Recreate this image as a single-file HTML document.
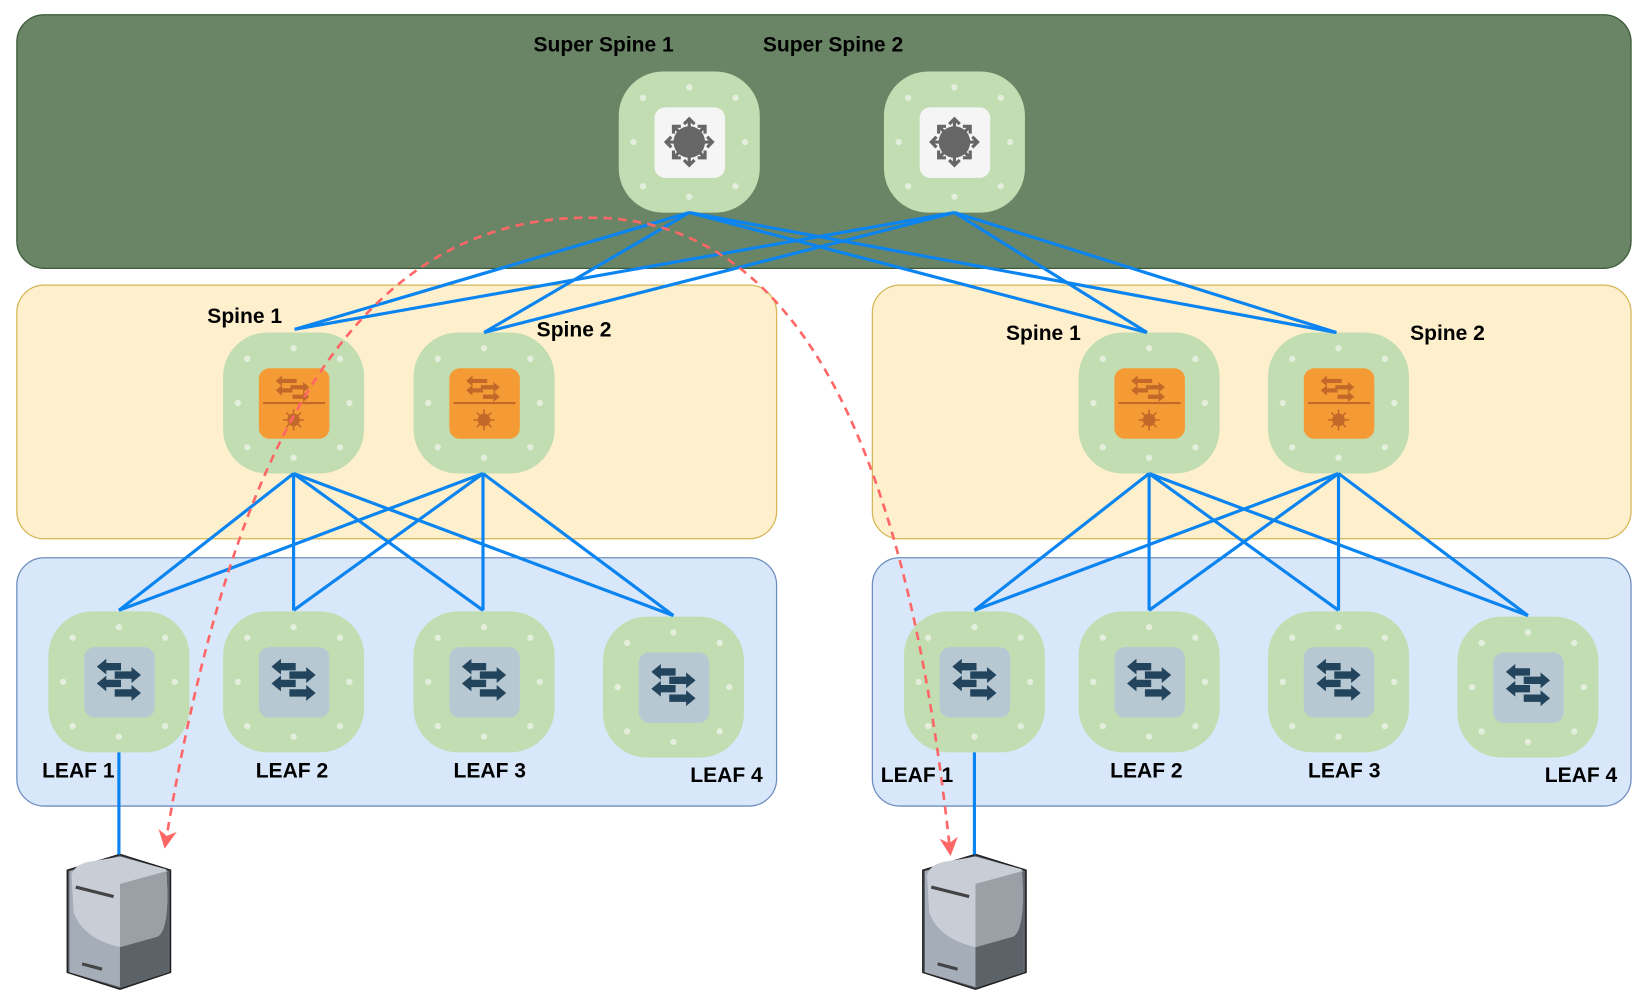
<!DOCTYPE html>
<html><head><meta charset="utf-8"><style>
html,body{margin:0;padding:0;background:#fff;}
svg{display:block;}
text{font-family:"Liberation Sans",sans-serif;font-weight:bold;font-size:20px;fill:#000;}
</style></head><body>
<svg width="1650" height="1006" viewBox="0 0 1568 956" preserveAspectRatio="none" xmlns="http://www.w3.org/2000/svg">
<defs>
<g id="dots" fill="#e3efdc">
<circle cx="67" cy="15" r="3"/><circle cx="23" cy="25" r="3"/><circle cx="111" cy="25" r="3"/>
<circle cx="14" cy="67" r="3"/><circle cx="120" cy="67" r="3"/>
<circle cx="23" cy="109" r="3"/><circle cx="111" cy="109" r="3"/><circle cx="67" cy="119" r="3"/>
</g>
<g id="ss">
<rect width="134" height="134" rx="42" fill="#c2ddb2"/><use href="#dots"/>
<rect x="34" y="34" width="67" height="67" rx="10" fill="#f5f5f5"/>
<circle cx="67" cy="67" r="15" fill="#666"/>
<g stroke="#666" stroke-width="3" fill="none">
<path d="M67,45V89M45,67H89M52,52L82,82M82,52L52,82"/>
<path d="M62,50L67,45L72,50M62,84L67,89L72,84M50,62L45,67L50,72M84,62L89,67L84,72"/>
<path d="M52,59V52H59M82,59V52H75M52,75V82H59M82,75V82H75"/>
</g></g>
<g id="sp">
<rect width="134" height="134" rx="42" fill="#c2ddb2"/><use href="#dots"/>
<rect x="34" y="34" width="67" height="67" rx="10" fill="#f59b35"/>
<line x1="38" y1="67" x2="97" y2="67" stroke="#c2692a" stroke-width="2"/>
<g fill="#c2692a"><path d="M56,44h14v4H56v3l-6,-5 6,-5z"/><path d="M64,50h12v-3l6,5-6,5v-3H64z"/><path d="M56,53h10v4H56v3l-6,-5 6,-5z"/><path d="M66,59h10v-3l6,5-6,5v-3H66z"/>
<circle cx="67" cy="83" r="6"/></g>
<g stroke="#c2692a" stroke-width="1.5"><path d="M67,73V93M57,83H77M60,76L74,90M74,76L60,90"/></g>
</g>
<g id="lf">
<rect width="134" height="134" rx="42" fill="#c2ddb2"/><use href="#dots"/>
<rect x="34" y="34" width="67" height="67" rx="10" fill="#b8c8d3"/>
<g fill="#23445d"><path d="M55,49h14v7H55v4l-9,-7.5 9,-7.5z"/><path d="M63,57h16v-4l9,7.5-9,7.5v-4H63z"/><path d="M55,65h14v7H55v4l-9,-7.5 9,-7.5z"/><path d="M63,74h16v-4l9,7.5-9,7.5v-4H63z"/></g>
</g>
<g id="srv">
<path d="M0,15L50,0L98,15V112L50,128L0,112Z" fill="#5a6068" stroke="#222" stroke-width="1.5"/>
<path d="M2,16L50,2L96,16V112L50,126L2,112Z" fill="#a4adb8"/>
<path d="M50,28L96,16V112L50,126Z" fill="#5b6268"/>
<path d="M4,20Q6,10 20,7L50,2L94,14Q98,70 86,78L50,88Q15,80 6,55Z" fill="#c9ced6"/>
<path d="M50,28L94,16Q98,70 86,78L50,88Z" fill="#9aa0a5"/>
<path d="M8,31L44,40M14,104L33,109" stroke="#444" stroke-width="3"/>
</g>
<marker id="ah" viewBox="0 0 10 10" refX="8" refY="5" markerWidth="7" markerHeight="7" orient="auto-start-reverse"><path d="M0,0L10,5L0,10L3,5Z" fill="#ff6666"/></marker>
</defs>

<rect x="16" y="14" width="1534" height="241" rx="26" fill="#6a8566" stroke="#3d5a3a" stroke-width="1.2"/>
<rect x="16" y="271" width="722" height="241" rx="26" fill="#fff0cd" stroke="#d6b656" stroke-width="1.2"/>
<rect x="829" y="271" width="721" height="241" rx="26" fill="#fff0cd" stroke="#d6b656" stroke-width="1.2"/>
<rect x="16" y="530" width="722" height="236" rx="26" fill="#d8e7f9" stroke="#6c8ebf" stroke-width="1.2"/>
<rect x="829" y="530" width="721" height="236" rx="26" fill="#d8e7f9" stroke="#6c8ebf" stroke-width="1.2"/>

<use href="#ss" x="588" y="68"/><use href="#ss" x="840" y="68"/>
<use href="#sp" x="212" y="316"/><use href="#sp" x="393" y="316"/>
<use href="#sp" x="1025" y="316"/><use href="#sp" x="1205" y="316"/>
<use href="#lf" x="46" y="581"/><use href="#lf" x="212" y="581"/><use href="#lf" x="393" y="581"/><use href="#lf" x="573" y="586"/>
<use href="#lf" x="859" y="581"/><use href="#lf" x="1025" y="581"/><use href="#lf" x="1205" y="581"/><use href="#lf" x="1385" y="586"/>
<use href="#srv" x="64" y="812"/><use href="#srv" x="877" y="812"/>

<g stroke="#0a84f0" stroke-width="3" fill="none">
<path d="M655,202L280,313M655,202L460,316M655,202L1090,316M655,202L1270,316"/>
<path d="M907,202L280,313M907,202L460,316M907,202L1090,316M907,202L1270,316"/>
<path d="M279,450L113,580M279,450L279,580M279,450L459,580M279,450L640,585"/>
<path d="M459,450L113,580M459,450L279,580M459,450L459,580M459,450L640,585"/>
<path d="M1092,450L926,580M1092,450L1092,580M1092,450L1272,580M1092,450L1452,585"/>
<path d="M1272,450L926,580M1272,450L1092,580M1272,450L1272,580M1272,450L1452,585"/>
<path d="M113,715V812M926,715V812"/>
</g>

<path d="M157,803C220,420 340,200 570,207C790,214 870,500 903,810" fill="none" stroke="#ff6666" stroke-width="2.5" stroke-dasharray="8,6" marker-start="url(#ah)" marker-end="url(#ah)"/>

<text x="507" y="49">Super Spine 1</text>
<text x="725" y="49">Super Spine 2</text>
<text x="197" y="307">Spine 1</text>
<text x="510" y="320">Spine 2</text>
<text x="956" y="323">Spine 1</text>
<text x="1340" y="323">Spine 2</text>
<text x="40" y="739">LEAF 1</text>
<text x="243" y="739">LEAF 2</text>
<text x="431" y="739">LEAF 3</text>
<text x="656" y="743">LEAF 4</text>
<text x="837" y="743">LEAF 1</text>
<text x="1055" y="739">LEAF 2</text>
<text x="1243" y="739">LEAF 3</text>
<text x="1468" y="743">LEAF 4</text>
</svg>
</body></html>
